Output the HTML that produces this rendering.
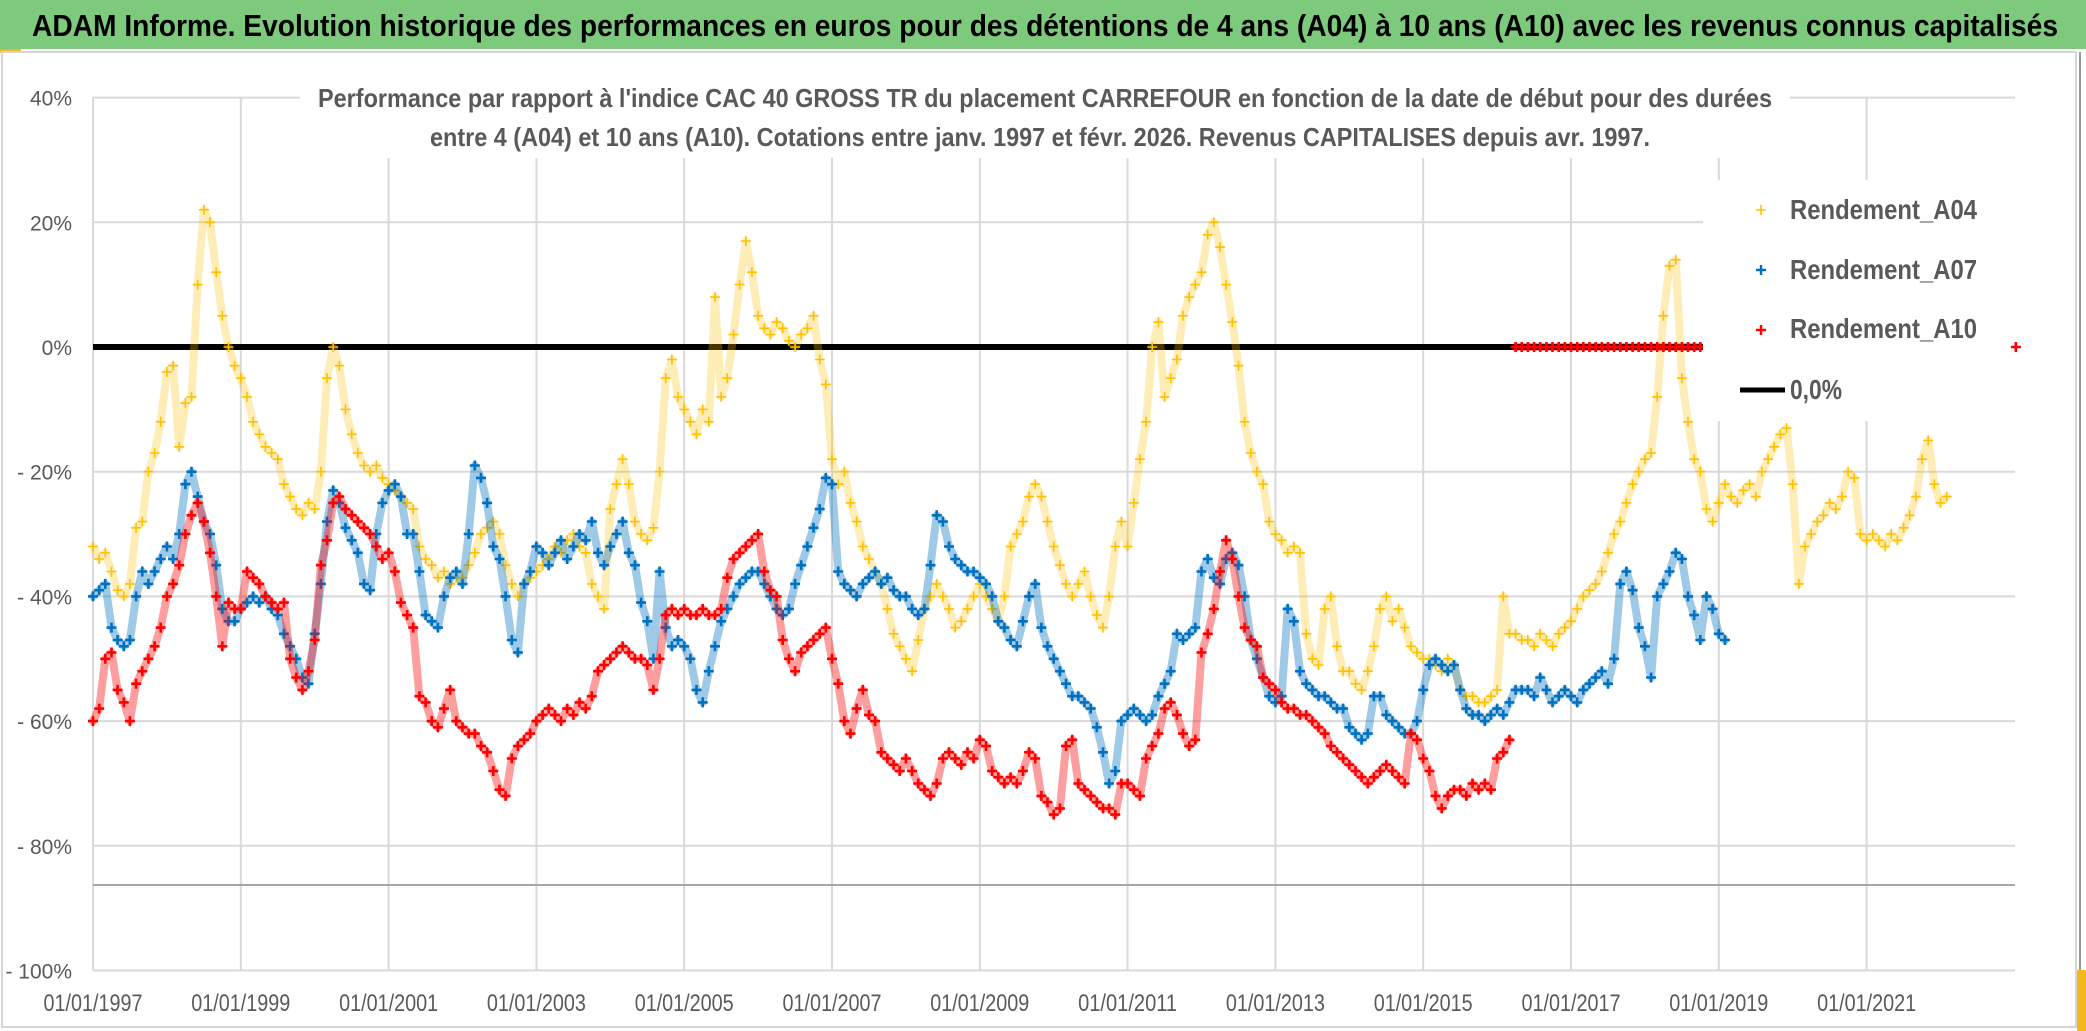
<!DOCTYPE html>
<html><head><meta charset="utf-8"><style>
html,body{margin:0;padding:0;background:#fff;}
svg{display:block;font-family:"Liberation Sans",sans-serif;}
</style></head><body>
<svg id="chart" width="2086" height="1031" viewBox="0 0 2086 1031" xmlns="http://www.w3.org/2000/svg">
<rect x="0" y="0" width="2086" height="1031" fill="#ffffff"/>
<rect x="0" y="0" width="2086" height="49" fill="#7ECA7C"/>
<rect x="0" y="49" width="21" height="4" fill="#F2B81C"/>
<rect x="2" y="52" width="2074" height="975" fill="none" stroke="#D6D6D6" stroke-width="2"/>
<line x1="2080" y1="52" x2="2080" y2="1031" stroke="#9a9a9a" stroke-width="2"/>
<rect x="2077" y="970" width="9" height="61" fill="#F2B81C"/>
<text x="32" y="36" font-size="31" font-weight="bold" fill="#000" textLength="2026" lengthAdjust="spacingAndGlyphs">ADAM Informe. Evolution historique des performances en euros pour des détentions de 4 ans (A04) à 10 ans (A10) avec les revenus connus capitalisés</text>
<g id="grid"></g>
<g id="axes"></g>
<g id="series"></g>
<rect x="300" y="80" width="1490" height="78" fill="#fff"/>
<text x="318" y="107" font-size="26" font-weight="bold" fill="#595959" textLength="1454" lengthAdjust="spacingAndGlyphs">Performance par rapport à l'indice CAC 40 GROSS TR  du placement CARREFOUR en fonction de la date de début pour des durées</text>
<text x="430" y="146" font-size="26" font-weight="bold" fill="#595959" textLength="1220" lengthAdjust="spacingAndGlyphs">entre 4 (A04) et 10 ans (A10). Cotations entre janv. 1997 et févr. 2026. Revenus CAPITALISES depuis avr. 1997.</text>
<g>
<rect x="1703" y="180" width="312" height="241" fill="#fff"/>
<g>
<path d="M1756 210h10M1761 205v10" stroke="#FFC000" stroke-width="1.6"/>
<text x="1790" y="219" font-size="28" font-weight="bold" fill="#595959" textLength="187" lengthAdjust="spacingAndGlyphs">Rendement_A04</text></g>
<g>
<path d="M1756 270h10M1761 265v10" stroke="#0070C0" stroke-width="2.4"/>
<text x="1790" y="279" font-size="28" font-weight="bold" fill="#595959" textLength="187" lengthAdjust="spacingAndGlyphs">Rendement_A07</text></g>
<g>
<path d="M1756 330h10M1761 325v10" stroke="#FF0000" stroke-width="2.4"/>
<text x="1790" y="338" font-size="28" font-weight="bold" fill="#595959" textLength="187" lengthAdjust="spacingAndGlyphs">Rendement_A10</text></g>
<g>
<line x1="1740" y1="390" x2="1785" y2="390" stroke="#000" stroke-width="5"/>
<text x="1790" y="399" font-size="28" font-weight="bold" fill="#595959" textLength="52" lengthAdjust="spacingAndGlyphs">0,0%</text></g>
</g>
<g id="late"></g>
</svg>
<script>
const startYear = 1997;
const a04Values = [
-32,-34,-33,-36,-39,-40,-38,-29,-28,-20,-17,-12,
-4,-3,-16,-9,-8,10,22,20,12,5,0,-3,
-5,-8,-12,-14,-16,-17,-18,-22,-24,-26,-27,-25,
-26,-20,-5,0,-3,-10,-14,-17,-19,-20,-19,-21,
-22,-23,-24,-25,-26,-32,-34,-35,-37,-36,-38,-37,
-37,-35,-33,-30,-29,-28,-30,-35,-38,-40,-38,-37,
-36,-35,-34,-32,-33,-31,-30,-32,-33,-38,-40,-42,
-26,-22,-18,-22,-28,-30,-31,-29,-20,-5,-2,-8,
-10,-12,-14,-10,-12,8,-8,-5,2,10,17,12,
5,3,2,4,3,1,0,2,3,5,-2,-6,
-18,-22,-20,-25,-28,-32,-34,-36,-38,-42,-46,-48,
-50,-52,-47,-42,-40,-38,-40,-42,-45,-44,-42,-40,
-38,-40,-42,-44,-40,-32,-30,-28,-24,-22,-24,-28,
-32,-35,-38,-40,-38,-36,-40,-43,-45,-40,-32,-28,
-32,-25,-18,-12,0,4,-8,-5,-2,5,8,10,
12,18,20,16,10,4,-3,-12,-17,-20,-22,-28,
-30,-31,-33,-32,-33,-46,-50,-51,-42,-40,-48,-52,
-52,-54,-55,-52,-48,-42,-40,-44,-42,-45,-48,-49,
-50,-50,-51,-52,-50,-51,-55,-56,-56,-57,-57,-56,
-55,-40,-46,-46,-47,-47,-48,-46,-47,-48,-46,-45,
-44,-42,-40,-39,-38,-36,-33,-30,-28,-25,-22,-20,
-18,-17,-8,5,13,14,-5,-12,-18,-20,-26,-28,
-25,-22,-24,-25,-23,-22,-24,-20,-18,-16,-14,-13,
-22,-38,-32,-30,-28,-27,-25,-26,-24,-20,-21,-30,
-31,-30,-31,-32,-30,-31,-29,-27,-24,-18,-15,-22,
-25,-24];
const a07Values = [
-40,-39,-38,-45,-47,-48,-47,-40,-36,-38,-36,-34,
-32,-34,-30,-22,-20,-24,-28,-30,-35,-42,-44,-44,
-42,-41,-40,-41,-40,-42,-43,-46,-48,-50,-53,-54,
-46,-38,-28,-23,-25,-29,-31,-33,-38,-39,-30,-25,
-23,-22,-24,-30,-30,-36,-43,-44,-45,-40,-37,-36,
-38,-30,-19,-21,-25,-32,-34,-40,-47,-49,-38,-36,
-32,-33,-35,-33,-31,-34,-32,-30,-31,-28,-33,-35,
-32,-30,-28,-33,-35,-41,-44,-50,-36,-45,-48,-47,
-48,-50,-55,-57,-52,-48,-44,-42,-40,-38,-37,-36,
-36,-38,-40,-42,-43,-42,-38,-35,-32,-29,-26,-21,
-22,-36,-38,-39,-40,-38,-37,-36,-38,-37,-39,-40,
-40,-42,-43,-42,-35,-27,-28,-32,-34,-35,-36,-36,
-37,-38,-40,-44,-45,-47,-48,-44,-40,-38,-45,-48,
-50,-52,-54,-56,-56,-57,-58,-61,-65,-70,-68,-60,
-59,-58,-59,-60,-59,-56,-54,-52,-46,-47,-46,-45,
-36,-34,-37,-38,-34,-33,-35,-40,-47,-50,-53,-56,
-57,-56,-42,-44,-52,-54,-55,-56,-56,-57,-58,-58,
-61,-62,-63,-62,-56,-56,-59,-60,-61,-62,-62,-60,
-55,-51,-50,-51,-52,-51,-55,-58,-59,-59,-60,-59,
-58,-59,-57,-55,-55,-55,-56,-53,-55,-57,-56,-55,
-56,-57,-55,-54,-53,-52,-54,-50,-38,-36,-39,-45,
-48,-53,-40,-38,-36,-33,-34,-40,-43,-47,-40,-42,
-46,-47];
const a10Values = [
-60,-58,-50,-49,-55,-57,-60,-54,-52,-50,-48,-45,
-40,-38,-35,-30,-27,-25,-28,-33,-40,-48,-41,-42,
-42,-36,-37,-38,-40,-41,-42,-41,-50,-53,-55,-52,
-47,-35,-31,-25,-24,-26,-27,-28,-29,-30,-32,-34,
-33,-36,-41,-43,-45,-56,-57,-60,-61,-58,-55,-60,
-61,-62,-62,-64,-65,-68,-71,-72,-66,-64,-63,-62,
-60,-59,-58,-59,-60,-58,-59,-57,-58,-56,-52,-51,
-50,-49,-48,-49,-50,-50,-51,-55,-50,-43,-42,-43,
-42,-43,-43,-42,-43,-43,-42,-37,-34,-33,-32,-31,
-30,-36,-39,-40,-47,-50,-52,-49,-48,-47,-46,-45,
-50,-54,-60,-62,-58,-55,-59,-60,-65,-66,-67,-68,
-66,-68,-70,-71,-72,-70,-66,-65,-66,-67,-65,-66,
-63,-64,-68,-69,-70,-69,-70,-68,-65,-66,-72,-73,
-75,-74,-64,-63,-70,-71,-72,-73,-74,-74,-75,-70,
-70,-71,-72,-66,-64,-62,-58,-57,-59,-62,-64,-63,
-49,-46,-42,-36,-31,-34,-40,-45,-47,-48,-53,-54,
-55,-57,-58,-58,-59,-59,-60,-61,-62,-64,-65,-66,
-67,-68,-69,-70,-69,-68,-67,-68,-69,-70,-62,-63,
-66,-68,-72,-74,-72,-71,-71,-72,-70,-71,-70,-71,
-66,-65,-63,
0,0,0,0,0,0,0,0,0,0,0,0,0,0,0,0,0,0,0,0,0,0,0,0,0,0,0,0,0,0,0];
const a10LateYears = [2023.02];
const a10LateValues = [0];
const yTicks = [40,20,0,-20,-40,-60,-80,-100];
const yTickLabels = ['40%','20%','0%','- 20%','- 40%','- 60%','- 80%','- 100%'];
const xTickYears = [1997,1999,2001,2003,2005,2007,2009,2011,2013,2015,2017,2019,2021];
const xTickLabels = ['01/01/1997','01/01/1999','01/01/2001','01/01/2003','01/01/2005','01/01/2007','01/01/2009','01/01/2011','01/01/2013','01/01/2015','01/01/2017','01/01/2019','01/01/2021'];

const NS = 'http://www.w3.org/2000/svg';
const PL = 93, PR = 2015;
function xS(yr){ return 93 + (yr - 1997) * 73.9; }
function yS(v){ return 347 - v * 6.235; }
function mk(tag, attrs, parent){ const e = document.createElementNS(NS, tag); for (const k in attrs) e.setAttribute(k, attrs[k]); parent.appendChild(e); return e; }

const grid = document.getElementById('grid');
const axes = document.getElementById('axes');
yTicks.forEach((t, i) => {
  const l = mk('line', {x1: PL, x2: PR, y1: yS(t), y2: yS(t), stroke: '#D9D9D9', 'stroke-width': 2}, grid);
  
  
  const tx = mk('text', {x: 72, y: yS(t) + 8, 'font-size': 21, fill: '#595959', 'text-anchor': 'end'}, axes);
  
  
  tx.textContent = yTickLabels[i];
});
xTickYears.forEach((yr, i) => {
  const x = xS(yr);
  const l = mk('line', {x1: x, x2: x, y1: yS(40), y2: yS(-100), stroke: '#D9D9D9', 'stroke-width': 2}, grid);
  
  
  const tx = mk('text', {x: x, y: 1011, 'font-size': 24, fill: '#595959', 'text-anchor': 'middle', textLength: 99, lengthAdjust: 'spacingAndGlyphs'}, axes);
  
  
  tx.textContent = xTickLabels[i];
});
const refl = mk('line', {x1: PL, x2: PR, y1: 885, y2: 885, stroke: '#A6A6A6', 'stroke-width': 2}, grid);



const seriesG = document.getElementById('series');
function drawSeries(vals, color, sw, name, bandOp){
  const g = mk('g', {}, seriesG);
  
  
  let seg = [], prev = null;
  const segs = [];
  vals.forEach((v, i) => {
    if (v === null) { if (seg.length) segs.push(seg); seg = []; prev = null; return; }
    if (prev !== null && Math.abs(v - prev) > 25) { segs.push(seg); seg = []; }
    seg.push([xS(startYear + i / 12), yS(v)]); prev = v;
  });
  if (seg.length) segs.push(seg);
  segs.forEach(s => {
    const pl = mk('polyline', {points: s.map(p => p[0].toFixed(1) + ',' + p[1].toFixed(1)).join(' '), fill: 'none', stroke: color, 'stroke-width': 8, 'stroke-linejoin': 'round', 'stroke-linecap': 'round', opacity: bandOp}, g);
    
    
  });
  vals.forEach((v, i) => {
    if (v === null) return;
    const x = xS(startYear + i / 12), y = yS(v);
    const p = mk('path', {d: `M${(x-5).toFixed(1)} ${y.toFixed(1)}h10M${x.toFixed(1)} ${(y-5).toFixed(1)}v10`, stroke: color, 'stroke-width': sw}, g);
    
    
  });
}
const zl = mk('line', {x1: PL, x2: PR, y1: yS(0), y2: yS(0), stroke: '#000', 'stroke-width': 6}, seriesG);


drawSeries(a04Values, '#FFC000', 1.6, 'series-a04', 0.28);
drawSeries(a07Values, '#0070C0', 2.6, 'series-a07', 0.38);
drawSeries(a10Values, '#FF0000', 2.6, 'series-a10', 0.38);
const late = document.getElementById('late');
a10LateYears.forEach((yr, i) => {
  const x = xS(yr), y = yS(a10LateValues[i]);
  const p = mk('path', {d: `M${x-5} ${y}h10M${x} ${y-5}v10`, stroke: '#FF0000', 'stroke-width': 2.6}, late);
  
  
});
</script>
</body></html>
